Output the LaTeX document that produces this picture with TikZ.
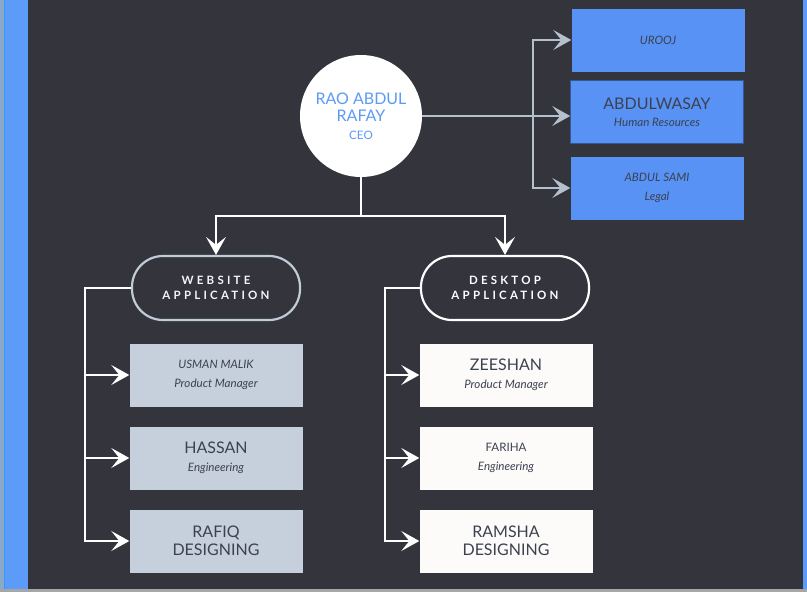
\documentclass[tikz,border=0pt]{standalone}
\usepackage{fontspec}
\setmainfont{Lato}
\newfontfamily\spacedfont[LetterSpace=28]{Lato}
\usetikzlibrary{arrows.meta}
\definecolor{bgdark}{HTML}{33343C}
\definecolor{stripblue}{HTML}{5C9CF8}
\definecolor{stripgrey}{HTML}{8AA9C8}
\definecolor{stripline}{HTML}{3399FF}
\definecolor{boxblue}{HTML}{5892F5}
\definecolor{boxgrey}{HTML}{C6D0DC}
\definecolor{boxwhite}{HTML}{FCFBFA}
\definecolor{boxtext}{HTML}{3C4150}
\definecolor{ceoblue}{HTML}{5B9BF5}
\definecolor{greyline}{HTML}{B4C0CC}
\definecolor{pillgrey}{HTML}{C0CCD8}

\newcommand{\bigname}[1]{{\fontsize{16}{19}\selectfont #1}}
\newcommand{\smallrole}[1]{{\itshape #1}}

\begin{document}
\begin{tikzpicture}[x=1pt,y=-1pt,
  every node/.style={align=center,inner sep=0pt},
  font=\fontsize{11.6}{18.5}\selectfont,
  person/.style={minimum width=173pt,minimum height=63pt,text=boxtext},
  bluebox/.style={person,fill=boxblue},
  greybox/.style={person,fill=boxgrey},
  whitebox/.style={person,fill=boxwhite},
  pill/.style={draw,line width=2.2pt,rounded corners=31pt,minimum width=168pt,
    minimum height=64pt,fill=bgdark,font=\spacedfont\bfseries\fontsize{11.5}{15}\selectfont},
  tip/.style={-{Stealth[length=18pt,width=20pt,inset=8pt]}},
  wline/.style={draw=white,line width=1.6pt},
  gline/.style={draw=greyline,line width=1.6pt}]

  % background and side strips
  \fill[bgdark] (0,0) rectangle (807,592);
  \fill[stripgrey] (0,0) rectangle (4,592);
  \fill[stripblue] (4,0) rectangle (28,592);
  \fill[stripline] (4,0) rectangle (5.2,592);
  \fill[stripblue] (803,0) rectangle (807,592);
  \fill[gray!70] (0,589) rectangle (807,592);

  % ceo
  \node[circle,fill=white,minimum size=122pt,text=ceoblue] (ceo) at (361,116)
    {\bigname{RAO ABDUL}\\[-1pt]\bigname{RAFAY}\\[-1pt]CEO};

  % staff on the right
  \node[bluebox] (urooj) at (658,40) {\smallrole{UROOJ}};
  \node[bluebox,draw=boxblue!60!black,line width=0.6pt] (wasay) at (657,112)
    {\bigname{ABDULWASAY}\\[-1pt]\smallrole{Human Resources}};
  \node[bluebox] (sami) at (657,188) {\smallrole{ABDUL SAMI}\\\smallrole{Legal}};

  \draw[gline,tip] (ceo.east) -- (ceo.east -| wasay.west);
  \draw[gline,tip] (ceo.east) -- ++(111,0) |- (urooj.west);
  \draw[gline,tip] (ceo.east) -- ++(111,0) |- (sami.west);

  % departments
  \node[pill,draw=pillgrey,text=white!92!gray] (web) at (216,288) {WEBSITE\\APPLICATION};
  \node[pill,draw=white,text=white] (desk) at (505,288) {DESKTOP\\APPLICATION};

  \draw[wline,tip] (ceo.south) -- ++(0,39) -| (web.north);
  \draw[wline,tip] (ceo.south) -- ++(0,39) -| (desk.north);

  % website team
  \node[greybox] (usman) at (216,375) {\smallrole{USMAN MALIK}\\\smallrole{Product Manager}};
  \node[greybox] (hassan) at (216,458) {\bigname{HASSAN}\\[-1pt]\smallrole{Engineering}};
  \node[greybox] (rafiq) at (216,541) {\bigname{RAFIQ}\\[-0.5pt]\bigname{DESIGNING}};

  \draw[wline,tip] (web.west) -- ++(-46,0) |- (usman.west);
  \draw[wline,tip] (web.west) -- ++(-46,0) |- (hassan.west);
  \draw[wline,tip] (web.west) -- ++(-46,0) |- (rafiq.west);

  % desktop team
  \node[whitebox] (zeeshan) at (506,375) {\bigname{ZEESHAN}\\[-1pt]\smallrole{Product Manager}};
  \node[whitebox] (fariha) at (506,458) {FARIHA\\\smallrole{Engineering}};
  \node[whitebox] (ramsha) at (506,541) {\bigname{RAMSHA}\\[-0.5pt]\bigname{DESIGNING}};

  \draw[wline,tip] (desk.west) -- ++(-35,0) |- (zeeshan.west);
  \draw[wline,tip] (desk.west) -- ++(-35,0) |- (fariha.west);
  \draw[wline,tip] (desk.west) -- ++(-35,0) |- (ramsha.west);
\end{tikzpicture}
\end{document}
